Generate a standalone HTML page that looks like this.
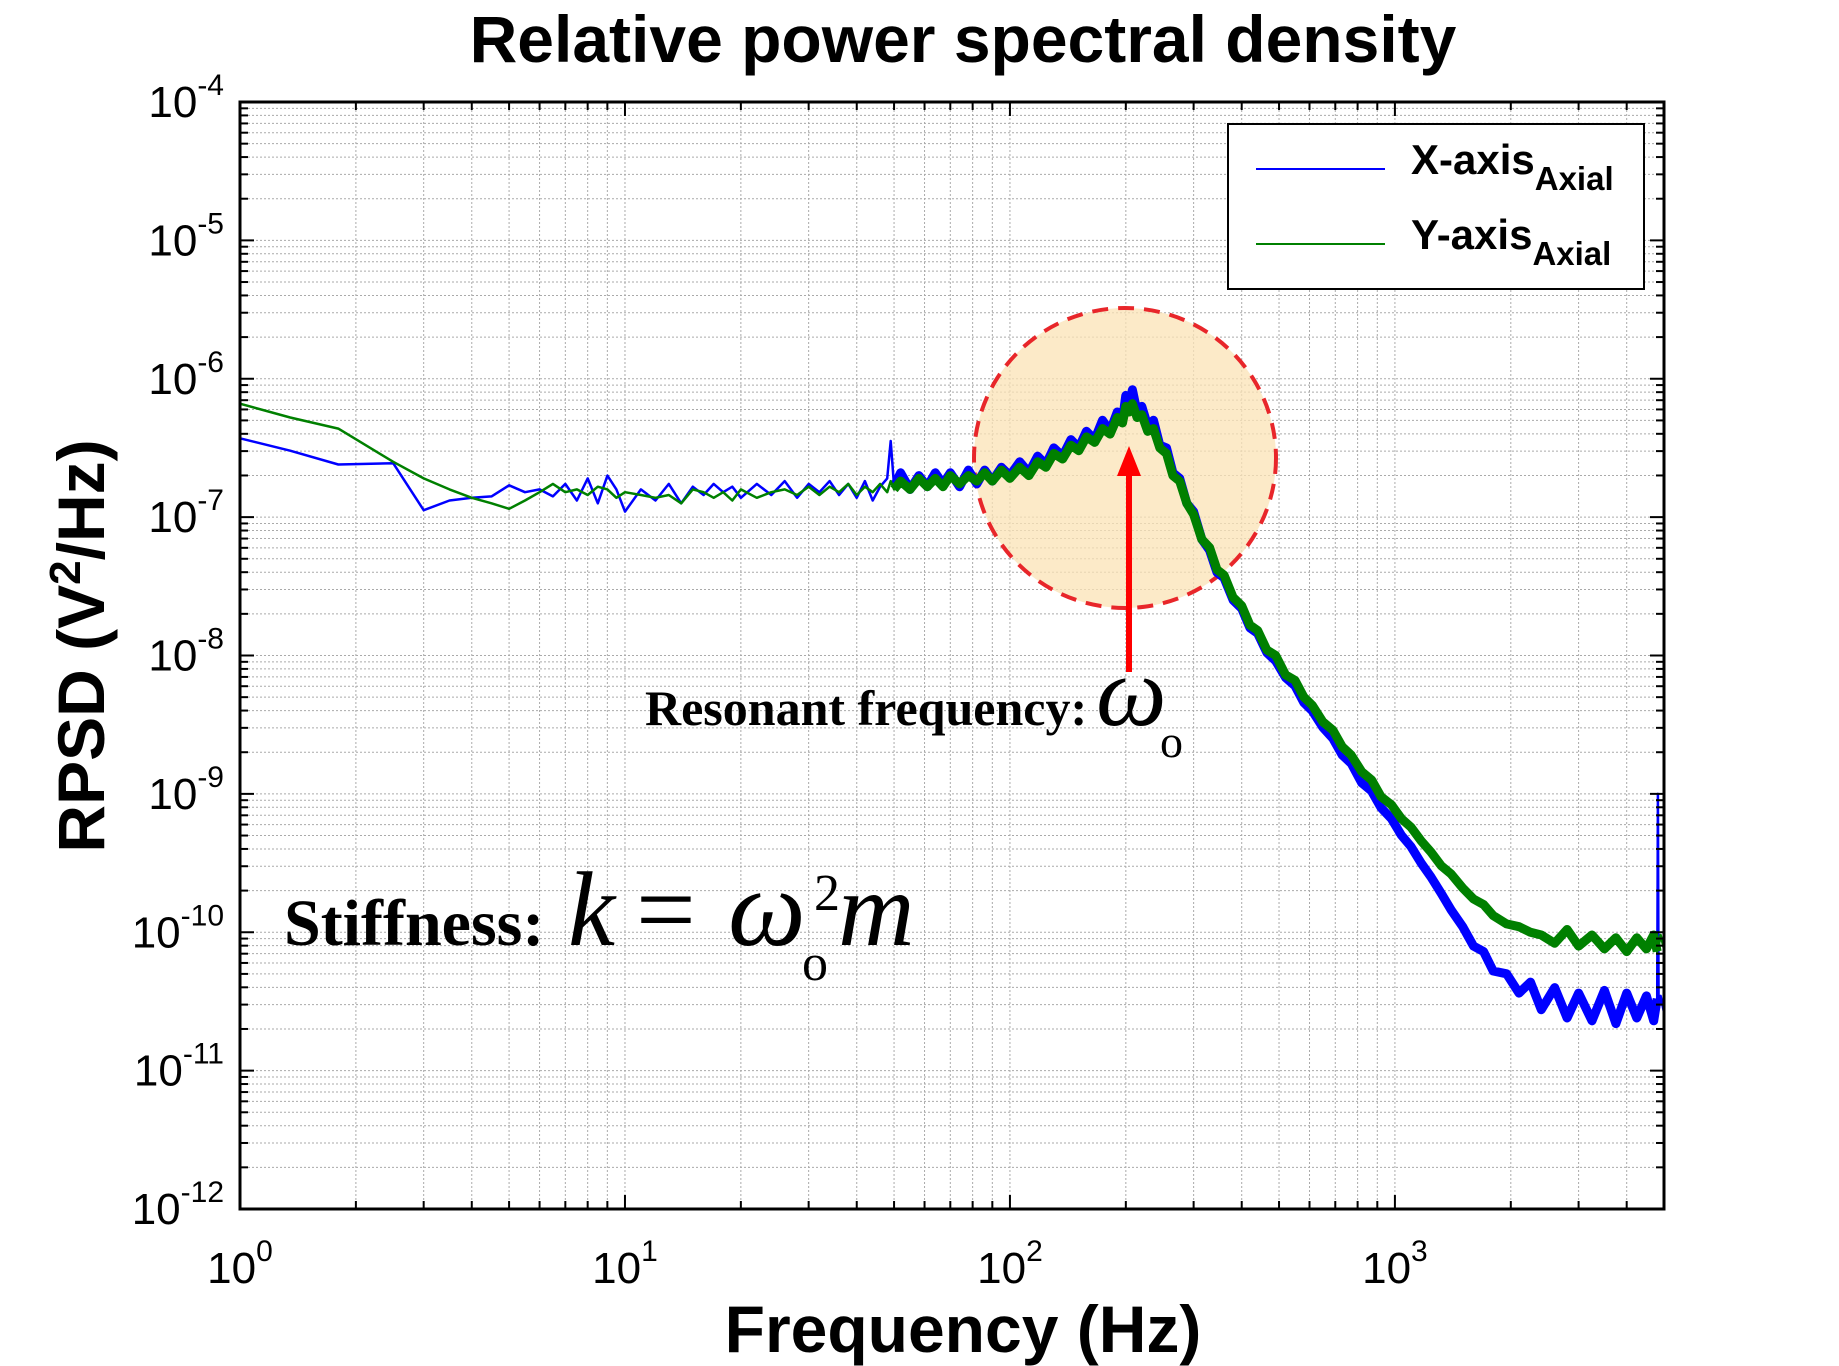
<!DOCTYPE html>
<html><head><meta charset="utf-8"><style>
html,body{margin:0;padding:0;background:#fff;}
svg{display:block;}
</style></head><body>
<svg id="chart" width="1839" height="1366" viewBox="0 0 1839 1366" xmlns="http://www.w3.org/2000/svg">
<g id="grid"></g>
<g id="highlight">
<ellipse cx="1125" cy="458" rx="151" ry="150" fill="#fbe3b6" fill-opacity="0.75" stroke="#e8262a" stroke-width="4" stroke-dasharray="16,10"/>
</g>
<g id="series"></g>
<g id="axes"></g>
<line x1="1129" y1="672" x2="1129" y2="470" stroke="#f00" stroke-width="6"/>
<polygon points="1129,446 1117,476 1141,476" fill="#f00"/>
<text x="963" y="62" text-anchor="middle" font-family="Liberation Sans, sans-serif" font-weight="bold" font-size="66">Relative power spectral density</text>
<text x="963" y="1352" text-anchor="middle" font-family="Liberation Sans, sans-serif" font-weight="bold" font-size="66">Frequency (Hz)</text>
<text transform="translate(104,646) rotate(-90)" text-anchor="middle" font-family="Liberation Sans, sans-serif" font-weight="bold" font-size="66">RPSD (V<tspan font-size="44" dy="-24">2</tspan><tspan dy="24">/Hz)</tspan></text>
<text x="645" y="725" font-family="Liberation Serif, serif" font-weight="bold" font-size="50">Resonant frequency:</text>
<text x="1096" y="725" font-family="Liberation Serif, serif" font-style="italic" font-size="100">ω</text>
<text x="1160" y="757" font-family="Liberation Serif, serif" font-size="46">o</text>
<text x="284" y="945" font-family="Liberation Serif, serif" font-weight="bold" font-size="66">Stiffness:</text>
<text x="568" y="945" font-family="Liberation Serif, serif" font-style="italic" font-size="106">k</text>
<text x="636" y="945" font-family="Liberation Serif, serif" font-size="106">=</text>
<text x="728" y="945" font-family="Liberation Serif, serif" font-style="italic" font-size="110">ω</text>
<text x="814" y="910" font-family="Liberation Serif, serif" font-size="52">2</text>
<text x="802" y="980" font-family="Liberation Serif, serif" font-size="52">o</text>
<text x="838" y="945" font-family="Liberation Serif, serif" font-style="italic" font-size="106">m</text>
<g id="legend">
<rect x="1228" y="124" width="416" height="165" fill="#fff" stroke="#000" stroke-width="2"/>
<line x1="1256" y1="169" x2="1385" y2="169" stroke="#0000ff" stroke-width="2"/>
<text x="1411" y="174" font-family="Liberation Sans, sans-serif" font-weight="bold" font-size="42">X-axis<tspan font-size="33" dy="16">Axial</tspan></text>
<line x1="1256" y1="244" x2="1385" y2="244" stroke="#008000" stroke-width="2"/>
<text x="1411" y="249" font-family="Liberation Sans, sans-serif" font-weight="bold" font-size="42">Y-axis<tspan font-size="33" dy="16">Axial</tspan></text>
</g>
</svg>
<script>
const freqs = [1,1.35,1.8,2.5,3,3.5,4,4.5,5,5.5,
6,6.5,7,7.5,8,8.5,9,9.5,10,11,
12,13,14,15,16,17,18,19,20,22,
24,26,28,30,32,34,36,38,40,42,
44,46,48,49,50,52,55,58,61,64,
67,70,74,78,82,86,90,95,100,106,
112,118,124,130,137,144,151,158,166,174,
182,190,196,200,204,208,214,220,228,236,
245,255,265,276,288,300,315,330,345,360,
380,400,420,440,465,490,520,550,580,610,
650,690,730,770,820,870,920,980,1040,1100,
1170,1240,1320,1400,1500,1600,1700,1800,1950,2100,
2250,2400,2600,2800,3000,3250,3500,3750,4000,4250,
4500,4700,4800,4820,4840,4900,5000];
const xAxialLog = [-6.43,-6.52,-6.62,-6.61,-6.95,-6.88,-6.86,-6.85,-6.77,-6.82,
-6.80,-6.85,-6.76,-6.88,-6.72,-6.90,-6.70,-6.80,-6.96,-6.80,
-6.88,-6.76,-6.90,-6.78,-6.84,-6.76,-6.82,-6.78,-6.86,-6.76,
-6.84,-6.74,-6.86,-6.76,-6.82,-6.74,-6.84,-6.76,-6.86,-6.74,
-6.88,-6.78,-6.72,-6.45,-6.78,-6.68,-6.80,-6.70,-6.78,-6.68,
-6.76,-6.68,-6.78,-6.66,-6.76,-6.66,-6.74,-6.64,-6.70,-6.60,
-6.68,-6.56,-6.62,-6.50,-6.56,-6.44,-6.50,-6.38,-6.44,-6.30,
-6.38,-6.24,-6.30,-6.12,-6.20,-6.08,-6.24,-6.20,-6.34,-6.30,
-6.48,-6.50,-6.68,-6.72,-6.90,-6.96,-7.16,-7.24,-7.40,-7.44,
-7.60,-7.66,-7.80,-7.84,-7.98,-8.04,-8.16,-8.22,-8.34,-8.40,
-8.52,-8.60,-8.72,-8.78,-8.92,-8.98,-9.10,-9.18,-9.30,-9.38,
-9.50,-9.60,-9.72,-9.84,-9.96,-10.10,-10.14,-10.28,-10.30,-10.44,
-10.36,-10.56,-10.40,-10.62,-10.44,-10.64,-10.42,-10.66,-10.44,-10.62,
-10.46,-10.64,-10.48,-9.00,-10.56,-10.46,-10.58];
const yAxialLog = [-6.18,-6.28,-6.36,-6.60,-6.72,-6.80,-6.86,-6.90,-6.94,-6.88,
-6.82,-6.76,-6.82,-6.80,-6.84,-6.78,-6.80,-6.86,-6.82,-6.84,
-6.86,-6.84,-6.90,-6.80,-6.82,-6.86,-6.82,-6.88,-6.80,-6.86,
-6.82,-6.80,-6.84,-6.78,-6.84,-6.78,-6.82,-6.76,-6.84,-6.78,
-6.82,-6.76,-6.82,-6.74,-6.80,-6.74,-6.80,-6.72,-6.78,-6.72,
-6.78,-6.70,-6.76,-6.70,-6.74,-6.68,-6.74,-6.66,-6.72,-6.64,
-6.70,-6.60,-6.64,-6.54,-6.58,-6.48,-6.52,-6.42,-6.46,-6.36,
-6.40,-6.28,-6.32,-6.20,-6.24,-6.18,-6.28,-6.26,-6.38,-6.36,
-6.50,-6.54,-6.70,-6.74,-6.90,-6.98,-7.16,-7.22,-7.38,-7.42,
-7.58,-7.64,-7.78,-7.82,-7.96,-8.00,-8.14,-8.18,-8.30,-8.36,
-8.48,-8.54,-8.66,-8.72,-8.84,-8.90,-9.02,-9.08,-9.18,-9.24,
-9.34,-9.42,-9.52,-9.58,-9.68,-9.76,-9.80,-9.88,-9.94,-9.96,
-10.00,-10.02,-10.08,-9.98,-10.10,-10.02,-10.12,-10.04,-10.14,-10.04,
-10.12,-10.02,-10.14,-10.04,-10.10,-10.02,-10.12];
const xTickExps = [0,1,2,3];
const yTickExps = [-4,-5,-6,-7,-8,-9,-10,-11,-12];

const NS = 'http://www.w3.org/2000/svg';
const L = 240, R = 1664, T = 102, B = 1209;
const xMinLog = 0, xMaxLog = Math.log10(5000), yMinLog = -12, yMaxLog = -4;
function xs(f){ return L + (Math.log10(f) - xMinLog) / (xMaxLog - xMinLog) * (R - L); }
function ys(lv){ return B - (lv - yMinLog) / (yMaxLog - yMinLog) * (B - T); }
function mk(tag, attrs, parent){ const e = document.createElementNS(NS, tag); for (const k in attrs) e.setAttribute(k, attrs[k]); parent.appendChild(e); return e; }

const grid = document.getElementById('grid');
const axes = document.getElementById('axes');
for (let d = 0; d <= 3; d++) {
  for (let m = 1; m <= 9; m++) {
    const f = m * Math.pow(10, d);
    if (f > 5000) break;
    const x = xs(f);
    if (x > L + 1 && x < R - 1) {
      const g = mk('line', {x1:x, y1:T, x2:x, y2:B, stroke:'#aaa', 'stroke-width':1, 'stroke-dasharray':'2,2'}, grid);
      
      
    }
    const len = m === 1 ? 14 : 8;
    const t1 = mk('line', {x1:x, y1:B, x2:x, y2:B - len, stroke:'#000', 'stroke-width':2}, axes);
    
    
    const t2 = mk('line', {x1:x, y1:T, x2:x, y2:T + len, stroke:'#000', 'stroke-width':2}, axes);
    
    
  }
}
for (let e = -12; e < -4; e++) {
  for (let m = 1; m <= 9; m++) {
    const lv = e + Math.log10(m);
    const y = ys(lv);
    if (y < B - 1 && y > T + 1) {
      const g = mk('line', {x1:L, y1:y, x2:R, y2:y, stroke:'#aaa', 'stroke-width':1, 'stroke-dasharray':'2,2'}, grid);
      
      
    }
    const len = m === 1 ? 14 : 8;
    const t1 = mk('line', {x1:L, y1:y, x2:L + len, y2:y, stroke:'#000', 'stroke-width':2}, axes);
    
    
    const t2 = mk('line', {x1:R, y1:y, x2:R - len, y2:y, stroke:'#000', 'stroke-width':2}, axes);
    
    
  }
}
const frame = mk('rect', {x:L, y:T, width:R - L, height:B - T, fill:'none', stroke:'#000', 'stroke-width':3}, axes);



xTickExps.forEach(function(e){
  const t = mk('text', {x:xs(Math.pow(10, e)), y:1283, 'text-anchor':'middle', 'font-family':'Liberation Sans, sans-serif', 'font-size':44}, axes);
  
  
  t.innerHTML = '10<tspan font-size="30" dy="-22">' + e + '</tspan>';
});
yTickExps.forEach(function(e){
  const t = mk('text', {x:224, y:ys(e) + 15, 'text-anchor':'end', 'font-family':'Liberation Sans, sans-serif', 'font-size':44}, axes);
  
  
  t.innerHTML = '10<tspan font-size="30" dy="-22">' + e + '</tspan>';
});

const series = document.getElementById('series');
function drawSeries(vals, color, name){
  const pts = freqs.map(function(f, i){ return xs(f).toFixed(1) + ',' + ys(vals[i]).toFixed(1); });
  const p = mk('polyline', {points:pts.join(' '), fill:'none', stroke:color, 'stroke-width':2.5, 'stroke-linejoin':'round'}, series);
  
  
  const dense = pts.filter(function(_, i){ return freqs[i] >= 50 && freqs[i] <= 4800; });
  const b = mk('polyline', {points:dense.join(' '), fill:'none', stroke:color, 'stroke-width':9, 'stroke-linejoin':'round'}, series);
  
  
}
drawSeries(xAxialLog, '#0000ff', 'x-axial-series');
drawSeries(yAxialLog, '#008000', 'y-axial-series');
</script>
</body></html>
